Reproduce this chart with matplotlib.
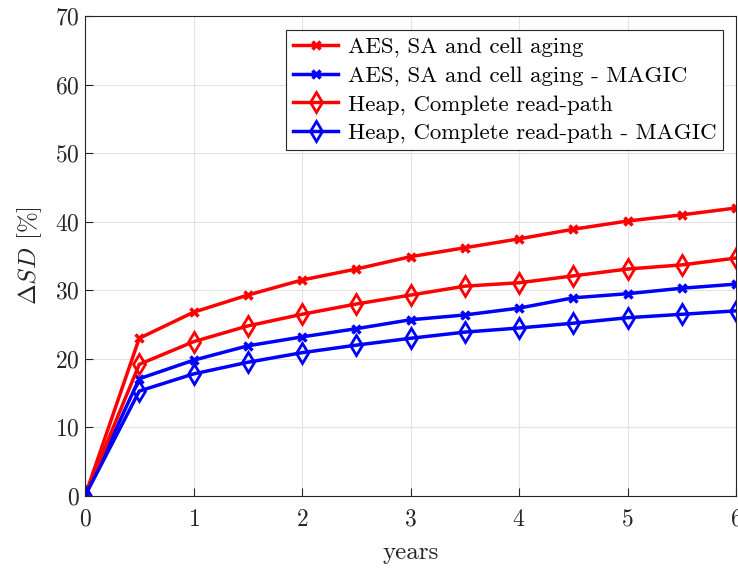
import matplotlib
matplotlib.use("Agg")
import matplotlib.pyplot as plt

plt.rcParams['font.family'] = 'cmr10'
plt.rcParams['mathtext.fontset'] = 'cm'
plt.rcParams['axes.formatter.use_mathtext'] = True

years = [0, 0.5, 1, 1.5, 2, 2.5, 3, 3.5, 4, 4.5, 5, 5.5, 6]
aes_sa = [0, 23.0, 26.8, 29.3, 31.5, 33.1, 34.9, 36.2, 37.5, 38.9, 40.1, 41.0, 42.0]
aes_sa_magic = [0, 17.1, 19.8, 21.9, 23.2, 24.4, 25.7, 26.4, 27.4, 28.9, 29.5, 30.3, 30.9]
heap = [0, 19.2, 22.5, 24.8, 26.5, 28.0, 29.3, 30.6, 31.1, 32.1, 33.1, 33.7, 34.7]
heap_magic = [0, 15.3, 17.8, 19.5, 20.9, 22.0, 23.0, 23.9, 24.5, 25.2, 26.0, 26.5, 27.0]
labels = ["AES, SA and cell aging", "AES, SA and cell aging - MAGIC",
          "Heap, Complete read-path", "Heap, Complete read-path - MAGIC"]

fig = plt.figure(figsize=(7.38, 5.71), dpi=100)
ax = fig.add_axes([85/738, 75/571, 651/738, 480/571])

ax.plot(years, aes_sa, color='#ff0000', lw=2.5, marker='x', ms=6, mew=2.5, label=labels[0])
ax.plot(years, aes_sa_magic, color='#0000ff', lw=2.5, marker='x', ms=6, mew=2.5, label=labels[1])
ax.plot(years, heap, color='#ff0000', lw=2.5, marker='d', ms=10, mew=2.0, mfc='none', label=labels[2])
ax.plot(years, heap_magic, color='#0000ff', lw=2.5, marker='d', ms=10, mew=2.0, mfc='none', label=labels[3])

ax.set_xlim(0, 6)
ax.set_ylim(0, 70)
ax.set_xticks(range(0, 7))
ax.set_yticks(range(0, 71, 10))
ax.grid(True, color='#e3e3e3', lw=0.8)
ax.set_axisbelow(True)
for s in ax.spines.values():
    s.set_color('#262626')
    s.set_linewidth(0.8)
ax.tick_params(direction='in', length=6, width=0.8, colors='#262626', labelsize=17,
               top=False, right=False, labelcolor='#262626')
ax.tick_params(axis='x', pad=9)
ax.tick_params(axis='y', pad=4)
ax.set_xlabel('years', fontsize=18, color='#262626', labelpad=8)
ax.set_ylabel(r'$\Delta SD$ [%]', fontsize=18, color='#262626', labelpad=8)

leg = ax.legend(loc='upper right', fontsize=16.5, frameon=True, fancybox=False,
                edgecolor='#262626', framealpha=1, borderaxespad=0.0,
                bbox_to_anchor=(723/738, 541/571), bbox_transform=fig.transFigure,
                handlelength=2.0, handletextpad=0.4, labelspacing=0.36, borderpad=0.3)
leg.get_frame().set_linewidth(0.8)

fig.savefig('out.png', dpi=100)
